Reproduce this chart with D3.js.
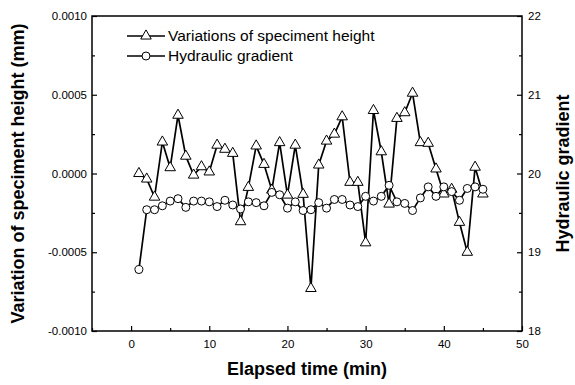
<!DOCTYPE html>
<html>
<head>
<meta charset="utf-8">
<script src="https://cdn.jsdelivr.net/npm/d3@7"></script>
<style>
  body { margin: 0; background: #fff; }
  svg { display: block; font-family: "Liberation Sans", Arial, sans-serif; }
</style>
</head>
<body>
<svg id="chart"></svg>
<script>
// elapsed time (min)
const elapsedTime = [1, 2, 3, 4, 5, 6, 7, 8, 9, 10, 11, 12, 13, 14, 15, 16, 17, 18, 19, 20,
  21, 22, 23, 24, 25, 26, 27, 28, 29, 30, 31, 32, 33, 34, 35, 36, 37, 38, 39, 40,
  41, 42, 43, 44, 45];

// variation of specimen height (mm), left axis
const heightVariation = [0.0, -0.000035, -0.00015, 0.0002, 0.000037, 0.00037, 0.00011, -0.00001,
  0.000043, 0.00001, 0.00018, 0.000154, 0.000128, -0.000306, -0.000088, 0.000175, 0.000058,
  -0.000105, 0.000196, -0.000137, 0.00018, -0.000132, -0.00073, 0.000054, 0.000206, 0.00025,
  0.00036, -0.000056, -0.000056, -0.00044, 0.0004, 0.000138, -0.000194, 0.00035, 0.000386,
  0.00051, 0.000196, 0.000192, 0.000029, -0.00013, -0.0001, -0.00031, -0.0005, 0.00004,
  -0.00013];

// hydraulic gradient, right axis
const hydraulicGradient = [18.78, 19.54, 19.54, 19.59, 19.65, 19.68, 19.57, 19.65, 19.65, 19.64,
  19.58, 19.66, 19.6, 19.55, 19.64, 19.63, 19.59, 19.76, 19.73, 19.56, 19.64, 19.53, 19.54,
  19.63, 19.56, 19.67, 19.67, 19.6, 19.58, 19.71, 19.65, 19.71, 19.85, 19.64, 19.62, 19.53,
  19.69, 19.83, 19.71, 19.83, 19.77, 19.66, 19.81, 19.83, 19.8];

const xTicks = [0, 10, 20, 30, 40, 50];
const xMinorTicks = [-5, 5, 15, 25, 35, 45];
const leftTicks = [-0.001, -0.0005, 0, 0.0005, 0.001];
const leftMinorTicks = [-0.00075, -0.00025, 0.00025, 0.00075];
const rightTicks = [18, 19, 20, 21, 22];
const rightMinorTicks = [18.5, 19.5, 20.5, 21.5];
const legendLabels = ["Variations of speciment height", "Hydraulic gradient"];

const config = {
  width: 575,
  height: 385,
  margin: { top: 16, right: 53, bottom: 54, left: 92 }
};

const innerW = config.width - config.margin.left - config.margin.right;
const innerH = config.height - config.margin.top - config.margin.bottom;

const svg = d3.select("#chart")
  .attr("width", config.width)
  .attr("height", config.height);

const chart = svg.append("g")
  .attr("transform", `translate(${config.margin.left},${config.margin.top})`);

// scales
const xScale = d3.scaleLinear().domain([-5, 50]).range([0, innerW]);
const yLeft = d3.scaleLinear().domain([-0.001, 0.001]).range([innerH, 0]);
const yRight = d3.scaleLinear().domain([18, 22]).range([innerH, 0]);

// axes, ticks point into the plot
const xAxis = d3.axisBottom(xScale).tickValues(xTicks).tickSize(-5).tickPadding(9);
const xAxisMinor = d3.axisBottom(xScale).tickValues(xMinorTicks).tickSize(-3).tickFormat("");
const leftAxis = d3.axisLeft(yLeft).tickValues(leftTicks).tickSize(-5).tickPadding(5)
  .tickFormat(d => d.toFixed(4));
const leftAxisMinor = d3.axisLeft(yLeft).tickValues(leftMinorTicks).tickSize(-3).tickFormat("");
const rightAxis = d3.axisRight(yRight).tickValues(rightTicks).tickSize(-5).tickPadding(6)
  .tickFormat(d3.format("d"));
const rightAxisMinor = d3.axisRight(yRight).tickValues(rightMinorTicks).tickSize(-3).tickFormat("");

function drawAxis(axis, transform) {
  const g = chart.append("g").attr("transform", transform).call(axis);
  g.select(".domain").remove();
  g.selectAll("line").attr("stroke", "#000").attr("stroke-width", 1.2);
  g.selectAll("text").attr("fill", "#000").style("font-size", "11.5px")
    .style("font-family", "Liberation Sans, Arial, sans-serif");
  return g;
}

drawAxis(xAxis, `translate(0,${innerH})`);
drawAxis(xAxisMinor, `translate(0,${innerH})`);
drawAxis(leftAxis, "translate(0,0)");
drawAxis(leftAxisMinor, "translate(0,0)");
drawAxis(rightAxis, `translate(${innerW},0)`);
drawAxis(rightAxisMinor, `translate(${innerW},0)`);

// frame
chart.append("rect")
  .attr("width", innerW)
  .attr("height", innerH)
  .attr("fill", "none")
  .attr("stroke", "#000")
  .attr("stroke-width", 1.5);

const heightData = elapsedTime.map((t, i) => ({ t, v: heightVariation[i] }));
const gradientData = elapsedTime.map((t, i) => ({ t, v: hydraulicGradient[i] }));

const triangle = d3.symbol().type(d3.symbolTriangle).size(48);

// height variation series
chart.append("path")
  .datum(heightData)
  .attr("fill", "none")
  .attr("stroke", "#000")
  .attr("stroke-width", 1.7)
  .attr("d", d3.line().x(d => xScale(d.t)).y(d => yLeft(d.v)));

chart.selectAll(".tri")
  .data(heightData)
  .join("path")
  .attr("class", "tri")
  .attr("transform", d => `translate(${xScale(d.t)},${yLeft(d.v)})`)
  .attr("d", triangle)
  .attr("fill", "#fff")
  .attr("stroke", "#000")
  .attr("stroke-width", 1);

// hydraulic gradient series
chart.append("path")
  .datum(gradientData)
  .attr("fill", "none")
  .attr("stroke", "#000")
  .attr("stroke-width", 1.7)
  .attr("d", d3.line().x(d => xScale(d.t)).y(d => yRight(d.v)));

chart.selectAll(".dot")
  .data(gradientData)
  .join("circle")
  .attr("class", "dot")
  .attr("cx", d => xScale(d.t))
  .attr("cy", d => yRight(d.v))
  .attr("r", 4)
  .attr("fill", "#fff")
  .attr("stroke", "#000")
  .attr("stroke-width", 1);

// legend
const legend = svg.append("g").attr("transform", "translate(127,36)");
legendLabels.forEach((label, i) => {
  const row = legend.append("g").attr("transform", `translate(0,${i * 20})`);
  row.append("line")
    .attr("x1", 0).attr("x2", 38)
    .attr("stroke", "#000").attr("stroke-width", 1.7);
  if (i === 0) {
    row.append("path").attr("d", triangle).attr("transform", "translate(19,0)")
      .attr("fill", "#fff").attr("stroke", "#000");
  } else {
    row.append("circle").attr("cx", 19).attr("r", 4)
      .attr("fill", "#fff").attr("stroke", "#000");
  }
  row.append("text")
    .attr("x", 41).attr("dy", "0.35em")
    .style("font-size", "15.5px")
    .text(label);
});

// axis titles
svg.append("text")
  .attr("transform", `translate(${config.margin.left + innerW / 2},${config.height - 10})`)
  .attr("text-anchor", "middle")
  .style("font-size", "18px").style("font-weight", "bold")
  .text("Elapsed time (min)");

svg.append("text")
  .attr("transform", `translate(24,${config.margin.top + innerH / 2}) rotate(-90)`)
  .attr("text-anchor", "middle")
  .style("font-size", "18px").style("font-weight", "bold")
  .text("Variation of speciment height (mm)");

svg.append("text")
  .attr("transform", `translate(569,${config.margin.top + innerH / 2}) rotate(-90)`)
  .attr("text-anchor", "middle")
  .style("font-size", "18px").style("font-weight", "bold")
  .text("Hydraulic gradient");
</script>
</body>
</html>
